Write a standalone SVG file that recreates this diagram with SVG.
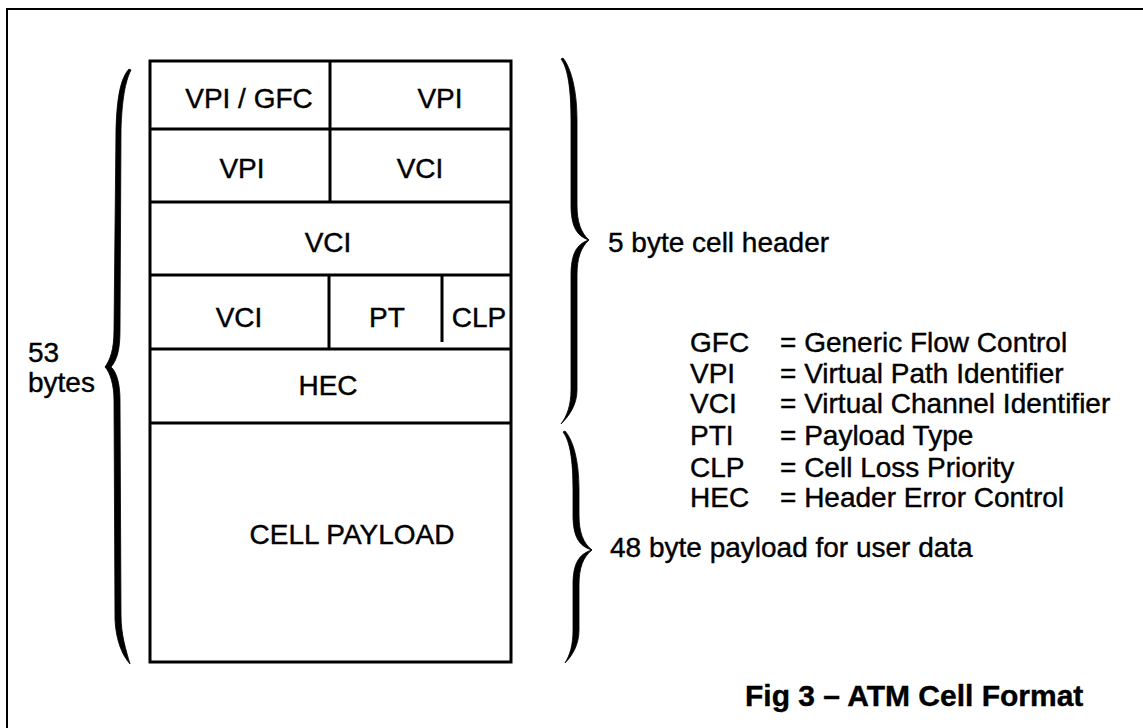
<svg xmlns="http://www.w3.org/2000/svg" width="1143" height="728" viewBox="0 0 1143 728">
<style>
text{font-family:"Liberation Sans",Arial,sans-serif;font-size:28px;fill:#000;stroke:#000;stroke-width:0.4}
.c{text-anchor:middle}
.t{font-weight:bold;font-size:30px}
.ln{stroke:#000;stroke-width:3;fill:none}
.fr{stroke:#000;stroke-width:2;fill:none}
.br{fill:#000;stroke:#000;stroke-width:0.8}
</style>
<rect width="1143" height="728" fill="#fff"/>
<path class="fr" d="M7,728 V9 H1143"/>
<g id="cell">
<rect class="ln" x="150" y="61" width="361" height="601"/>
<g id="row1"><path class="ln" d="M150,129 H511 M330,61 V129"/>
<text class="c" x="249" y="108">VPI / GFC</text><text class="c" x="440" y="108">VPI</text></g>
<g id="row2"><path class="ln" d="M150,202 H511 M330,129 V202"/>
<text class="c" x="242" y="178">VPI</text><text class="c" x="420" y="178">VCI</text></g>
<g id="row3"><path class="ln" d="M150,275 H511"/>
<text class="c" x="328" y="252">VCI</text></g>
<g id="row4"><path class="ln" d="M150,349 H511 M329,275 V349 M442,275 V342"/>
<text class="c" x="239" y="327">VCI</text><text class="c" x="387" y="327">PT</text><text class="c" x="479" y="327">CLP</text></g>
<g id="row5"><path class="ln" d="M150,423 H511"/>
<text class="c" x="328" y="395">HEC</text></g>
<g id="payload"><text class="c" x="352" y="544">CELL PAYLOAD</text></g>
</g>
<g id="connectors">
<path class="br" d="M129,69 C121,78 117,95 116,130 L114,330 C114,350 110,360 105,367 C110,372 114,385 114,400 L115,620 C116,640 122,655 130,664 C126,650 121,635 121,615 L120,400 C120,385 117,372 111,367 C117,360 120,350 120,330 L121,130 C122,100 125,82 131,70 Z"/>
<path class="br" d="M561,59 C568,68 571,90 571,120 L571,205 C571,225 576,236 589,240 C576,244 571,255 571,275 L571,390 C571,405 567,416 561,424 C569,416 577,405 577,390 L577,275 C577,258 581,247 589,240 C581,233 577,222 577,205 L577,120 C577,90 571,68 563,58 Z"/>
<path class="br" d="M563,432 C570,441 573,460 573,490 L573,515 C573,535 578,546 592,550 C578,554 573,565 573,585 L573,630 C573,645 570,655 565,663 C572,656 579,645 579,630 L579,585 C579,568 583,557 592,550 C583,543 579,532 579,515 L579,490 C579,460 573,440 565,431 Z"/>
</g>
<g id="labels">
<text x="28" y="362">53</text>
<text x="28" y="392">bytes</text>
<text x="608" y="252">5 byte cell header</text>
<text x="610" y="557">48 byte payload for user data</text>
</g>
<g id="legend">
<text x="690" y="352">GFC</text><text x="780" y="352">= Generic Flow Control</text>
<text x="690" y="383">VPI</text><text x="780" y="383">= Virtual Path Identifier</text>
<text x="690" y="413">VCI</text><text x="780" y="413">= Virtual Channel Identifier</text>
<text x="690" y="445">PTI</text><text x="780" y="445">= Payload Type</text>
<text x="690" y="477">CLP</text><text x="780" y="477">= Cell Loss Priority</text>
<text x="690" y="507">HEC</text><text x="780" y="507">= Header Error Control</text>
</g>
<g id="title"><text class="t" x="745" y="706">Fig 3 – ATM Cell Format</text></g>
</svg>
